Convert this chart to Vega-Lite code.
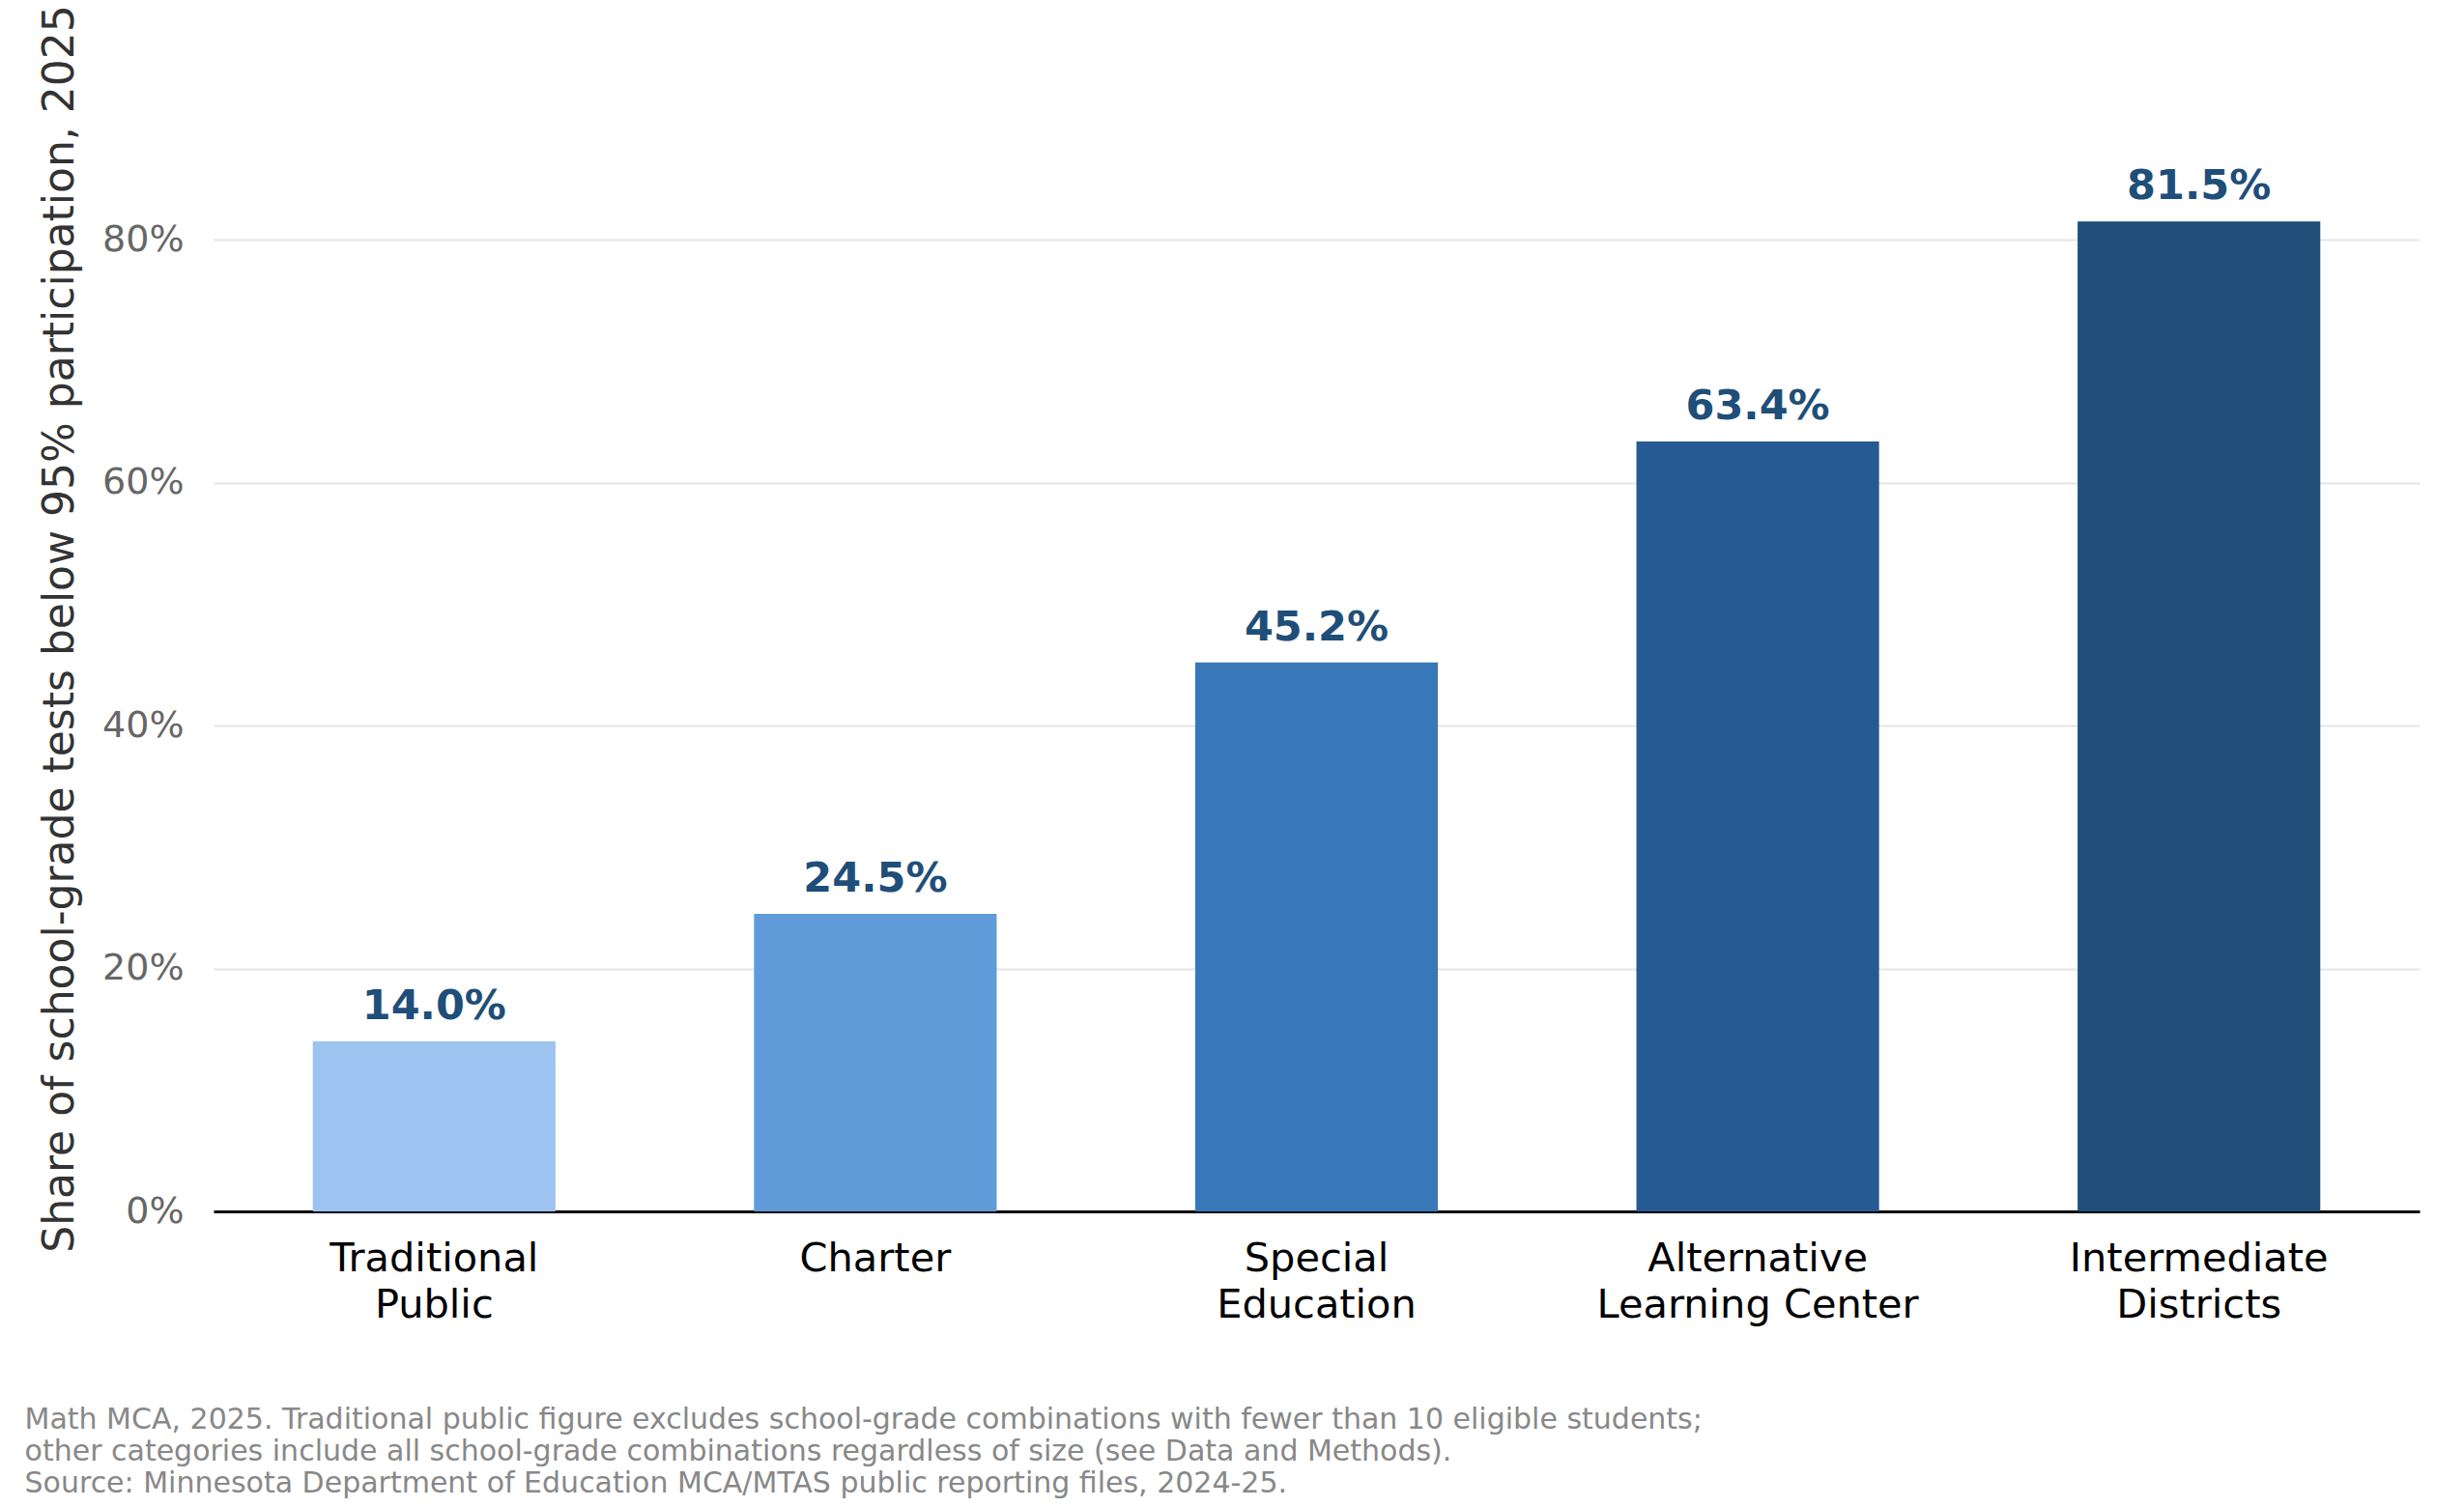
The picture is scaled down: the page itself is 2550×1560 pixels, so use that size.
{
  "$schema": "https://vega.github.io/schema/vega-lite/v6.json",
  "width": 2283,
  "height": 1207,
  "autosize": {"type": "none"},
  "padding": {"left": 221, "top": 47, "right": 46, "bottom": 306},
  "background": "white",
  "data": {
    "values": [
      {"category": "Traditional Public", "share": 0.140},
      {"category": "Charter", "share": 0.245},
      {"category": "Special Education", "share": 0.452},
      {"category": "Alternative Learning Center", "share": 0.634},
      {"category": "Intermediate Districts", "share": 0.815}
    ]
  },
  "title": {
    "text": [
      "Math MCA, 2025. Traditional public figure excludes school-grade combinations with fewer than 10 eligible students;",
      "other categories include all school-grade combinations regardless of size (see Data and Methods).",
      "Source: Minnesota Department of Education MCA/MTAS public reporting files, 2024-25."
    ],
    "orient": "bottom",
    "anchor": "start",
    "baseline": "top",
    "dx": -15,
    "offset": 83,
    "font": "DejaVu Sans",
    "fontSize": 30,
    "fontWeight": "normal",
    "lineHeight": 33,
    "color": "#888888"
  },
  "encoding": {
    "x": {
      "field": "category",
      "type": "nominal",
      "sort": null,
      "scale": {"paddingInner": 0.45, "paddingOuter": 0.225},
      "axis": {
        "title": null,
        "labelAngle": 0,
        "labelExpr": "datum.value == 'Alternative Learning Center' ? ['Alternative', 'Learning Center'] : split(datum.value, ' ')",
        "labelFont": "DejaVu Sans",
        "labelFontSize": 41.5,
        "labelLineHeight": 48,
        "labelLimit": 0,
        "labelColor": "#000000",
        "labelPadding": 28,
        "ticks": false,
        "domainColor": "#000000",
        "domainWidth": 3,
        "grid": false
      }
    },
    "y": {
      "field": "share",
      "type": "quantitative",
      "scale": {"domain": [0, 0.96], "nice": false},
      "axis": {
        "title": "Share of school-grade tests below 95% participation, 2025",
        "titleFont": "DejaVu Sans",
        "titleFontSize": 44,
        "titleFontWeight": "normal",
        "titleColor": "#333333",
        "titlePadding": 21,
        "titleLimit": 0,
        "values": [0, 0.2, 0.4, 0.6, 0.8],
        "format": ".0%",
        "labelFont": "DejaVu Sans",
        "labelFontSize": 38,
        "labelColor": "#666666",
        "labelPadding": 31,
        "ticks": false,
        "domain": false,
        "grid": true,
        "gridColor": "#e5e5e5",
        "gridWidth": 2
      }
    }
  },
  "layer": [
    {
      "mark": {"type": "bar"},
      "encoding": {
        "color": {
          "field": "category",
          "type": "nominal",
          "sort": null,
          "scale": {"range": ["#9dc3f0", "#5e9bd8", "#3878b8", "#265a93", "#1f4e79"]},
          "legend": null
        }
      }
    },
    {
      "mark": {
        "type": "text",
        "baseline": "alphabetic",
        "dy": -23,
        "font": "DejaVu Sans",
        "fontSize": 43,
        "fontWeight": "bold",
        "color": "#1f4e79"
      },
      "encoding": {
        "text": {"field": "share", "type": "quantitative", "format": ".1%"}
      }
    }
  ],
  "config": {
    "view": {"stroke": null}
  }
}
